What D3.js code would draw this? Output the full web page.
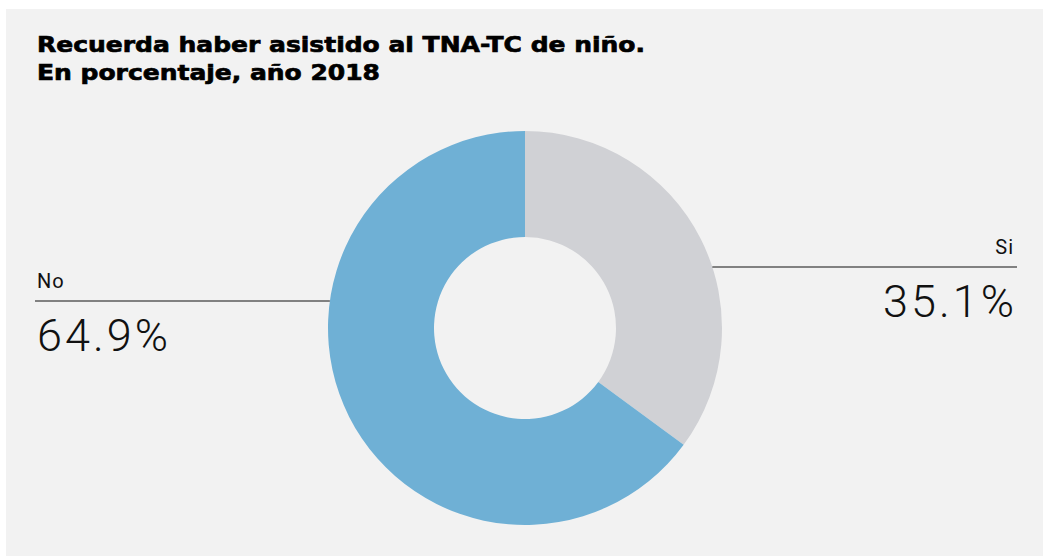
<!DOCTYPE html>
<html>
<head>
<meta charset="utf-8">
<script src="https://cdn.jsdelivr.net/npm/d3@7"></script>
<style>
  body { margin: 0; background: #fff; }
  svg { display: block; }
</style>
</head>
<body>
<div class="chart-container"></div>
<script>
"use strict";

// Chart data
const titleLines = ["Recuerda haber asistido al TNA-TC de niño.", "En porcentaje, año 2018"];
const titleWidths = [608, 343];
const categories = ["Si", "No"];
const values = [35.1, 64.9];
const colors = ["#d0d1d5", "#6fb0d5"];

const width = 1049;
const height = 558;

const svg = d3.select(".chart-container")
  .append("svg")
    .attr("width", width)
    .attr("height", height);

// Gray panel
svg.append("rect")
  .attr("x", 6)
  .attr("y", 9)
  .attr("width", 1037)
  .attr("height", 547)
  .attr("fill", "#f2f2f2");

// Title (wide heavy face, fitted to the measured width)
svg.append("g")
  .selectAll("text")
  .data(titleLines)
  .join("text")
    .attr("x", 37)
    .attr("y", (d, i) => 52 + i * 28)
    .attr("font-family", "'DejaVu Sans', sans-serif")
    .attr("font-weight", 700)
    .attr("font-size", 22)
    .attr("textLength", (d, i) => titleWidths[i])
    .attr("lengthAdjust", "spacingAndGlyphs")
    .attr("fill", "#000")
    .attr("stroke", "#000")
    .attr("stroke-width", 0.7)
    .text(d => d);

// Donut
const cx = 525;
const cy = 328;
const outerR = 197;
const innerR = 91;

const data = categories.map((c, i) => ({ name: c, value: values[i], color: colors[i] }));

const pie = d3.pie()
  .value(d => d.value)
  .sort(null);

const arc = d3.arc()
  .innerRadius(innerR)
  .outerRadius(outerR);

const donut = svg.append("g")
  .attr("transform", `translate(${cx}, ${cy})`);

donut.selectAll("path")
  .data(pie(data))
  .join("path")
    .attr("d", arc)
    .attr("fill", d => d.data.color);

// Labels with leader lines
const labels = [
  { name: "Si", lineY: 267, side: "right" },
  { name: "No", lineY: 301, side: "left" }
];

labels.forEach(l => {
  const d = data.find(x => x.name === l.name);
  const dy = l.lineY - cy;
  const edge = Math.sqrt(outerR * outerR - dy * dy);
  const x1 = l.side === "right" ? cx + edge : 35;
  const x2 = l.side === "right" ? 1017 : cx - edge;
  const tx = l.side === "right" ? 1014 : 37;
  const anchor = l.side === "right" ? "end" : "start";

  svg.append("line")
    .attr("x1", x1)
    .attr("x2", x2)
    .attr("y1", l.lineY)
    .attr("y2", l.lineY)
    .attr("stroke", "#111")
    .attr("stroke-width", 1.2);

  svg.append("text")
    .attr("x", tx)
    .attr("y", l.lineY - 13)
    .attr("text-anchor", anchor)
    .attr("font-family", "Roboto, sans-serif")
    .attr("font-size", 20)
    .attr("letter-spacing", 1)
    .attr("fill", "#111")
    .text(d.name);

  svg.append("text")
    .attr("x", l.side === "right" ? tx + 3 : tx)
    .attr("y", l.lineY + 50)
    .attr("text-anchor", anchor)
    .attr("font-family", "Roboto, sans-serif")
    .attr("font-weight", 300)
    .attr("font-size", 45)
    .attr("letter-spacing", 3)
    .attr("fill", "#111")
    .text(d3.format(".1f")(d.value) + "%");
});
</script>
</body>
</html>
